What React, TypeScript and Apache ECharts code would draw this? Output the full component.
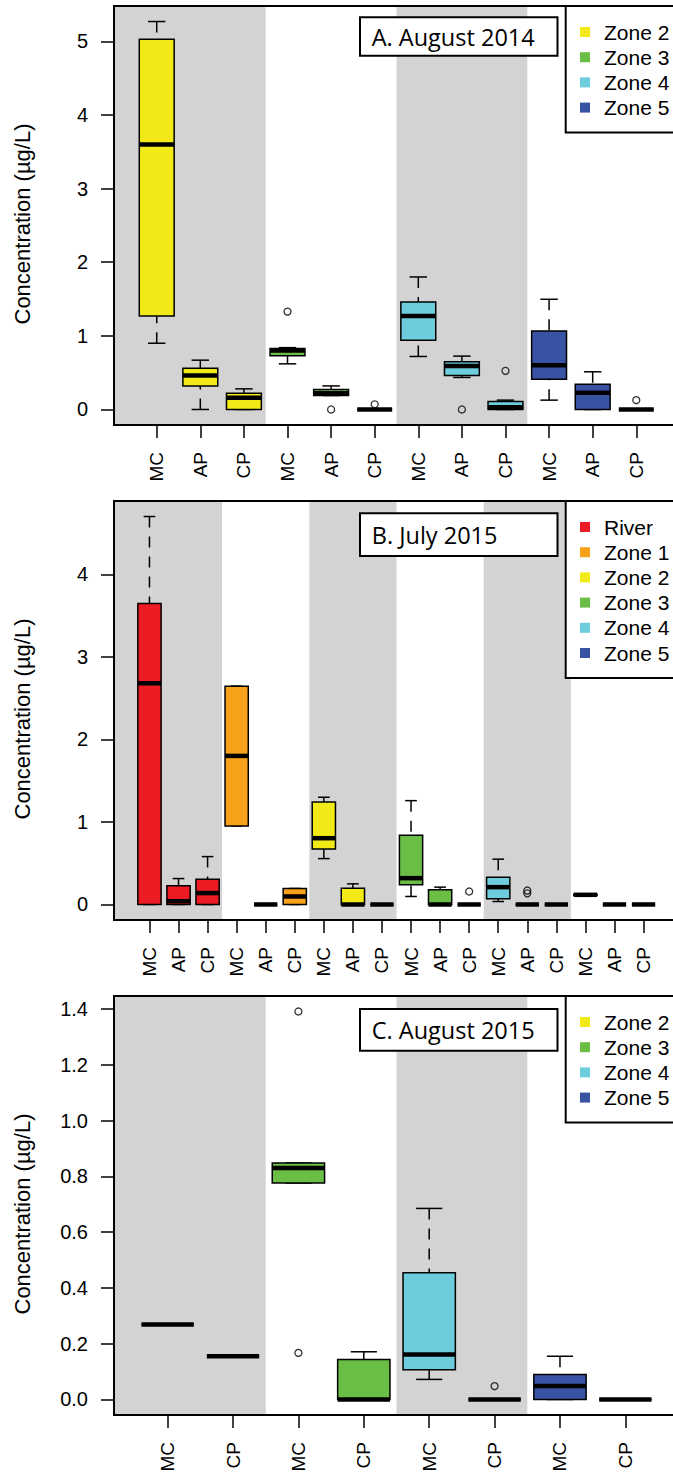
import React, { useEffect, useRef } from 'react';
import * as echarts from 'echarts';

// ---------- data ----------
const ZONE_NAMES = ['River', 'Zone 1', 'Zone 2', 'Zone 3', 'Zone 4', 'Zone 5'];
const ZONE_COLORS = ['#ED1C24', '#F8A21B', '#F2EA16', '#6ABD45', '#6DCDDC', '#3953A4'];

// Panel A: August 2014
const titleA = 'A. August 2014';
const catsA = ['MC', 'AP', 'CP', 'MC', 'AP', 'CP', 'MC', 'AP', 'CP', 'MC', 'AP', 'CP'];
const zonesA = [2, 2, 2, 3, 3, 3, 4, 4, 4, 5, 5, 5];
// [min, q1, median, q3, max]
const statsA = [
  [0.9, 1.27, 3.6, 5.03, 5.27],
  [0.0, 0.32, 0.46, 0.56, 0.67],
  [0.0, 0.0, 0.16, 0.22, 0.28],
  [0.62, 0.73, 0.8, 0.83, 0.84],
  [0.19, 0.19, 0.22, 0.27, 0.32],
  [0, 0, 0, 0, 0],
  [0.72, 0.94, 1.27, 1.46, 1.8],
  [0.435, 0.46, 0.59, 0.65, 0.725],
  [0, 0, 0.03, 0.11, 0.127],
  [0.127, 0.41, 0.6, 1.065, 1.497],
  [0, 0, 0.226, 0.344, 0.512],
  [0, 0, 0, 0, 0],
];
const outliersA = [[4, 1.33], [5, 0], [6, 0.07], [8, 0], [9, 0.525], [12, 0.127]];
const bandsA = [[1, 3], [7, 9]];
const yTicksA = [0, 1, 2, 3, 4, 5];
const legendA = [2, 3, 4, 5];

// Panel B: July 2015
const titleB = 'B. July 2015';
const catsB = ['MC', 'AP', 'CP', 'MC', 'AP', 'CP', 'MC', 'AP', 'CP', 'MC', 'AP', 'CP', 'MC', 'AP', 'CP', 'MC', 'AP', 'CP'];
const zonesB = [0, 0, 0, 1, 1, 1, 2, 2, 2, 3, 3, 3, 4, 4, 4, 5, 5, 5];
const statsB = [
  [0, 0, 2.68, 3.645, 4.7],
  [0, 0, 0.04, 0.226, 0.314],
  [0, 0, 0.138, 0.307, 0.58],
  [0.952, 0.952, 1.8, 2.645, 2.645],
  [0, 0, 0, 0, 0],
  [0, 0, 0.097, 0.194, 0.194],
  [0.556, 0.673, 0.803, 1.242, 1.299],
  [0, 0, 0, 0.198, 0.25],
  [0, 0, 0, 0, 0],
  [0.097, 0.238, 0.319, 0.839, 1.258],
  [0, 0, 0, 0.178, 0.21],
  [0, 0, 0, 0, 0],
  [0.036, 0.069, 0.21, 0.331, 0.549],
  [0, 0, 0, 0, 0],
  [0, 0, 0, 0, 0],
  [0.11, 0.11, 0.117, 0.125, 0.125],
  [0, 0, 0, 0, 0],
  [0, 0, 0, 0, 0],
];
const outliersB = [[12, 0.157], [14, 0.169], [14, 0.135]];
const bandsB = [[1, 3], [7, 9], [13, 15]];
const yTicksB = [0, 1, 2, 3, 4];
const legendB = [0, 1, 2, 3, 4, 5];

// Panel C: August 2015
const titleC = 'C. August 2015';
const catsC = ['MC', 'CP', 'MC', 'CP', 'MC', 'CP', 'MC', 'CP'];
const zonesC = [2, 2, 3, 3, 4, 4, 5, 5];
const statsC = [
  [0.269, 0.269, 0.269, 0.269, 0.269],
  [0.155, 0.155, 0.155, 0.155, 0.155],
  [0.776, 0.776, 0.83, 0.848, 0.848],
  [0, 0, 0, 0.143, 0.171],
  [0.072, 0.107, 0.161, 0.454, 0.685],
  [0, 0, 0, 0, 0],
  [0, 0, 0.048, 0.09, 0.155],
  [0, 0, 0, 0, 0],
];
const outliersC = [[3, 1.391], [3, 0.167], [6, 0.048]];
const bandsC = [[1, 2], [5, 6]];
const yTicksC = [0, 0.2, 0.4, 0.6, 0.8, 1.0, 1.2, 1.4];
const legendC = [2, 3, 4, 5];

const Y_TITLE = 'Concentration (\u00B5g/L)';

// ---------- layout ----------
const PLOT_LEFT = 114;
const PLOT_W = 565;
const PLOT_H = 419;
const SANS = '"Liberation Sans", Arial, Helvetica, sans-serif';
const TITLE_FONT = '"Open Sans", "Noto Sans", sans-serif';

const panels = [
  { title: titleA, cats: catsA, zones: zonesA, stats: statsA, outliers: outliersA, bands: bandsA, ticks: yTicksA, legend: legendA, dec: 0, top: 6, tbox: [17.3, 55.7], ylab: 224 },
  { title: titleB, cats: catsB, zones: zonesB, stats: statsB, outliers: outliersB, bands: bandsB, ticks: yTicksB, legend: legendB, dec: 0, top: 501, tbox: [513.3, 556], ylab: 719 },
  { title: titleC, cats: catsC, zones: zonesC, stats: statsC, outliers: outliersC, bands: bandsC, ticks: yTicksC, legend: legendC, dec: 1, top: 996, tbox: [1009, 1050.7], ylab: 1214 },
];

function bandRender(params: any, api: any) {
  const cs = params.coordSys;
  const s = api.value(0);
  const e = api.value(1);
  const x1 = s === 1 ? cs.x : api.coord([s - 0.5, 0])[0];
  const x2 = api.coord([e + 0.5, 0])[0];
  return {
    type: 'rect',
    shape: { x: x1, y: cs.y, width: x2 - x1, height: cs.height },
    style: { fill: '#D3D3D3' },
  };
}

function boxRender(params: any, api: any) {
  const x = api.value(0);
  const mn = api.value(1);
  const q1 = api.value(2);
  const md = api.value(3);
  const q3 = api.value(4);
  const mx = api.value(5);
  const z = api.value(6);
  const unit = api.size([1, 0])[0];
  const hw = 0.4 * unit;
  const sw = 0.2 * unit;
  const cx = api.coord([x, md])[0];
  const yMin = api.coord([x, mn])[1];
  const yQ1 = api.coord([x, q1])[1];
  const yMd = api.coord([x, md])[1];
  const yQ3 = api.coord([x, q3])[1];
  const yMax = api.coord([x, mx])[1];
  const children: any[] = [];
  const whisk = { stroke: '#000', lineWidth: 1.5, lineDash: [11, 9] };
  const solid = { stroke: '#000', lineWidth: 1.5 };
  if (mx > q3) children.push({ type: 'line', shape: { x1: cx, y1: yMax, x2: cx, y2: yQ3 }, style: whisk });
  if (mn < q1) children.push({ type: 'line', shape: { x1: cx, y1: yMin, x2: cx, y2: yQ1 }, style: whisk });
  children.push({ type: 'line', shape: { x1: cx - sw, y1: yMax, x2: cx + sw, y2: yMax }, style: solid });
  children.push({ type: 'line', shape: { x1: cx - sw, y1: yMin, x2: cx + sw, y2: yMin }, style: solid });
  children.push({
    type: 'rect',
    shape: { x: cx - hw, y: yQ3, width: 2 * hw, height: yQ1 - yQ3 },
    style: { fill: ZONE_COLORS[z], stroke: '#000', lineWidth: 1.5 },
  });
  children.push({
    type: 'line',
    shape: { x1: cx - hw, y1: yMd, x2: cx + hw, y2: yMd },
    style: { stroke: '#000', lineWidth: 4.5, lineCap: 'butt' },
  });
  return { type: 'group', children };
}

function buildOption() {
  const grid: any[] = [];
  const xAxis: any[] = [];
  const yAxis: any[] = [];
  const series: any[] = [];
  const graphic: any[] = [];

  panels.forEach((p, i) => {
    const n = p.cats.length;
    const positions = p.cats.map((_, k) => k + 1);
    let ymax = 0;
    p.stats.forEach((s) => s.forEach((v) => { if (v > ymax) ymax = v; }));
    p.outliers.forEach((o) => { if (o[1] > ymax) ymax = o[1]; });
    const ext = 0.04 * ymax;

    grid.push({ left: PLOT_LEFT, top: p.top, width: PLOT_W, height: PLOT_H, show: false });
    xAxis.push({
      type: 'value',
      gridIndex: i,
      position: 'bottom',
      min: 0.5 - 0.04 * n,
      max: n + 0.5 + 0.04 * n,
      axisLine: { show: false, onZero: false },
      splitLine: { show: false },
      axisTick: { show: true, length: 13, lineStyle: { color: '#000', width: 1.5 }, customValues: positions },
      axisLabel: {
        customValues: positions,
        rotate: 90,
        margin: 27,
        formatter: (v: number) => p.cats[Math.round(v) - 1] || '',
        color: '#000',
        fontSize: 19,
        fontFamily: SANS,
      },
    });
    yAxis.push({
      type: 'value',
      gridIndex: i,
      position: 'left',
      min: -ext,
      max: ymax + ext,
      axisLine: { show: false, onZero: false },
      splitLine: { show: false },
      axisTick: { show: true, length: 13, lineStyle: { color: '#000', width: 1.5 }, customValues: p.ticks },
      axisLabel: {
        customValues: p.ticks,
        margin: 26,
        formatter: (v: number) => v.toFixed(p.dec),
        color: '#000',
        fontSize: 20,
        fontFamily: SANS,
      },
    });

    series.push({
      type: 'custom',
      xAxisIndex: i,
      yAxisIndex: i,
      data: p.bands,
      renderItem: bandRender,
      z: 1,
      silent: true,
      clip: false,
    });
    series.push({
      type: 'custom',
      xAxisIndex: i,
      yAxisIndex: i,
      data: p.stats.map((s, k) => [k + 1, ...s, p.zones[k]]),
      encode: { x: 0, y: [1, 2, 3, 4, 5] },
      renderItem: boxRender,
      z: 2,
      silent: true,
      clip: false,
    });
    series.push({
      type: 'scatter',
      xAxisIndex: i,
      yAxisIndex: i,
      data: p.outliers,
      symbol: 'circle',
      symbolSize: 7,
      itemStyle: { color: 'rgba(0,0,0,0)', borderColor: '#000', borderWidth: 1.3 },
      z: 3,
      silent: true,
    });

    // plot frame
    graphic.push({
      type: 'rect',
      z: 100,
      silent: true,
      shape: { x: PLOT_LEFT, y: p.top, width: PLOT_W, height: PLOT_H },
      style: { fill: 'none', stroke: '#000', lineWidth: 2 },
    });
    // title box
    graphic.push({
      type: 'rect',
      z: 100,
      silent: true,
      shape: { x: 360, y: p.tbox[0], width: 197.5, height: p.tbox[1] - p.tbox[0] },
      style: { fill: '#fff', stroke: '#000', lineWidth: 2 },
    });
    graphic.push({
      type: 'text',
      z: 101,
      silent: true,
      x: 371.7,
      y: (p.tbox[0] + p.tbox[1]) / 2,
      style: { text: p.title, fontSize: 23.5, fontFamily: TITLE_FONT, fill: '#000', align: 'left', verticalAlign: 'middle' },
    });
    // legend
    const lh = 26 + (p.legend.length - 1) * 25.2 + 25;
    graphic.push({
      type: 'rect',
      z: 100,
      silent: true,
      shape: { x: 565.7, y: p.top, width: PLOT_LEFT + PLOT_W - 565.7, height: lh },
      style: { fill: '#fff', stroke: '#000', lineWidth: 2 },
    });
    p.legend.forEach((zi, k) => {
      const cy = p.top + 26 + k * 25.2;
      graphic.push({
        type: 'rect',
        z: 101,
        silent: true,
        shape: { x: 580, y: cy - 5, width: 10, height: 10 },
        style: { fill: ZONE_COLORS[zi] },
      });
      graphic.push({
        type: 'text',
        z: 101,
        silent: true,
        x: 604,
        y: cy,
        style: { text: ZONE_NAMES[zi], fontSize: 21, fontFamily: SANS, fill: '#000', align: 'left', verticalAlign: 'middle' },
      });
    });
    // y axis title
    graphic.push({
      type: 'text',
      z: 101,
      silent: true,
      x: 22,
      y: p.ylab,
      rotation: Math.PI / 2,
      style: { text: Y_TITLE, fontSize: 22, fontFamily: SANS, fill: '#000', align: 'center', verticalAlign: 'middle' },
    });
  });

  return { animation: false, backgroundColor: '#fff', grid, xAxis, yAxis, series, graphic };
}

export default function App() {
  const ref = useRef<HTMLDivElement>(null);
  useEffect(() => {
    const chart = echarts.init(ref.current as HTMLDivElement, null, { renderer: 'svg' });
    chart.setOption(buildOption() as any);
    return () => chart.dispose();
  }, []);
  return (
    <div style={{ position: 'absolute', left: 0, top: 0, width: 673, height: 1479, overflow: 'hidden', background: '#fff' }}>
      <div ref={ref} style={{ width: 690, height: 1479 }} />
    </div>
  );
}
